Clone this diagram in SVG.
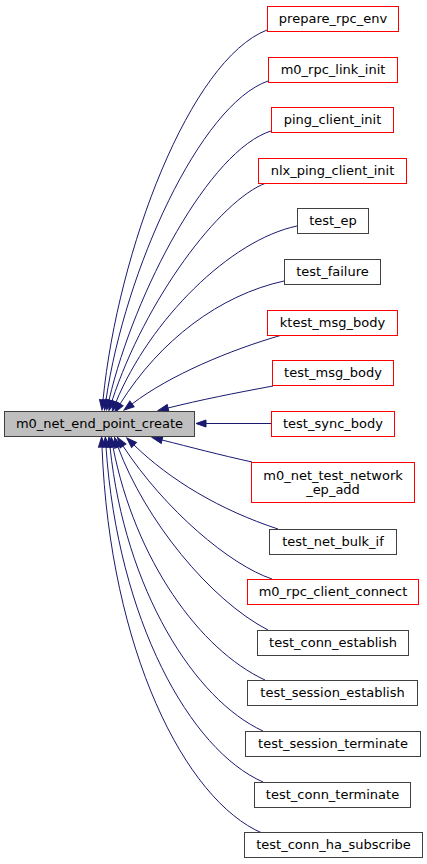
<svg xmlns="http://www.w3.org/2000/svg" width="427" height="864" viewBox="0 0 427 864">
<style>
text{font-family:"DejaVu Sans","Liberation Sans",sans-serif;font-size:13px;fill:#000;text-anchor:middle}
.n rect{fill:#fff;stroke:#404040;stroke-width:1}
.r rect{fill:#fff;stroke:#ff0000;stroke-width:1}
.m rect{fill:#bfbfbf;stroke:#404040;stroke-width:1}
#edges path{fill:none;stroke:#191970;stroke-width:1;marker-end:url(#ah)}
</style>
<defs>
<marker id="ah" markerUnits="userSpaceOnUse" markerWidth="12" markerHeight="10" refX="0" refY="4" orient="auto" viewBox="0 0 12 8" overflow="visible">
<path d="M0,0.5 L10,4 L0,7.5 z" fill="#191970" stroke="#191970" stroke-width="1"/>
</marker>
</defs>
<rect width="427" height="864" fill="#fff"/>
<g id="edges">
<path d="M267,30 C190,60 118,250 103,400"/>
<path d="M268,81 C200,105 125,270 106,400"/>
<path d="M271,131 C210,150 135,290 109,400"/>
<path d="M266,183 C220,200 145,300 112,401"/>
<path d="M297,226 C230,240 150,320 116,402"/>
<path d="M284,281 C220,295 160,340 120,404"/>
<path d="M282,335 C230,350 170,375 132,404"/>
<path d="M273,386 C235,393 200,400 168,408"/>
<path d="M271,423.5 L206,423.5"/>
<path d="M252,462 C220,455 190,447 162,440"/>
<path d="M278,529 C220,510 170,480 134,445"/>
<path d="M272,579 C230,565 165,510 123,446"/>
<path d="M268,630 C210,600 145,520 118,447"/>
<path d="M265,680 C200,650 135,560 113,447"/>
<path d="M263,731 C195,700 125,590 110,447"/>
<path d="M263,782 C190,750 118,620 106,447"/>
<path d="M262,833 C185,800 110,650 102,447"/>
</g>
<g id="main" class="m"><rect x="4.5" y="411.5" width="190" height="25"/><text x="99.5" y="428">m0_net_end_point_create</text></g>
<g id="prepare_rpc_env" class="r"><rect x="267.5" y="6.5" width="131" height="25"/><text x="333" y="23">prepare_rpc_env</text></g>
<g id="m0_rpc_link_init" class="r"><rect x="268.5" y="57.5" width="129" height="25"/><text x="333" y="74">m0_rpc_link_init</text></g>
<g id="ping_client_init" class="r"><rect x="271.5" y="107.5" width="122" height="25"/><text x="332.5" y="124">ping_client_init</text></g>
<g id="nlx_ping_client_init" class="r"><rect x="258.5" y="158.5" width="148" height="25"/><text x="332.5" y="175">nlx_ping_client_init</text></g>
<g id="test_ep" class="n"><rect x="297.5" y="208.5" width="71" height="25"/><text x="333" y="225">test_ep</text></g>
<g id="test_failure" class="n"><rect x="284.5" y="259.5" width="96" height="25"/><text x="332.5" y="276">test_failure</text></g>
<g id="ktest_msg_body" class="r"><rect x="267.5" y="310.5" width="130" height="25"/><text x="332.5" y="327">ktest_msg_body</text></g>
<g id="test_msg_body" class="r"><rect x="272.5" y="360.5" width="121" height="25"/><text x="333" y="377">test_msg_body</text></g>
<g id="test_sync_body" class="r"><rect x="271.5" y="411.5" width="123" height="25"/><text x="333" y="428">test_sync_body</text></g>
<g id="m0_net_test_network_ep_add" class="r"><rect x="251.5" y="462.5" width="163" height="40"/><text x="333" y="479.5">m0_net_test_network</text><text x="333" y="494">_ep_add</text></g>
<g id="test_net_bulk_if" class="n"><rect x="269.5" y="529.5" width="127" height="25"/><text x="333" y="546">test_net_bulk_if</text></g>
<g id="m0_rpc_client_connect" class="r"><rect x="247.5" y="579.5" width="171" height="25"/><text x="333" y="596">m0_rpc_client_connect</text></g>
<g id="test_conn_establish" class="n"><rect x="257.5" y="630.5" width="151" height="25"/><text x="333" y="647">test_conn_establish</text></g>
<g id="test_session_establish" class="n"><rect x="247.5" y="680.5" width="170" height="25"/><text x="332.5" y="697">test_session_establish</text></g>
<g id="test_session_terminate" class="n"><rect x="245.5" y="731.5" width="175" height="25"/><text x="333" y="748">test_session_terminate</text></g>
<g id="test_conn_terminate" class="n"><rect x="254.5" y="782.5" width="156" height="25"/><text x="332.5" y="799">test_conn_terminate</text></g>
<g id="test_conn_ha_subscribe" class="n"><rect x="244.5" y="832.5" width="178" height="25"/><text x="333.5" y="849">test_conn_ha_subscribe</text></g>
</svg>
